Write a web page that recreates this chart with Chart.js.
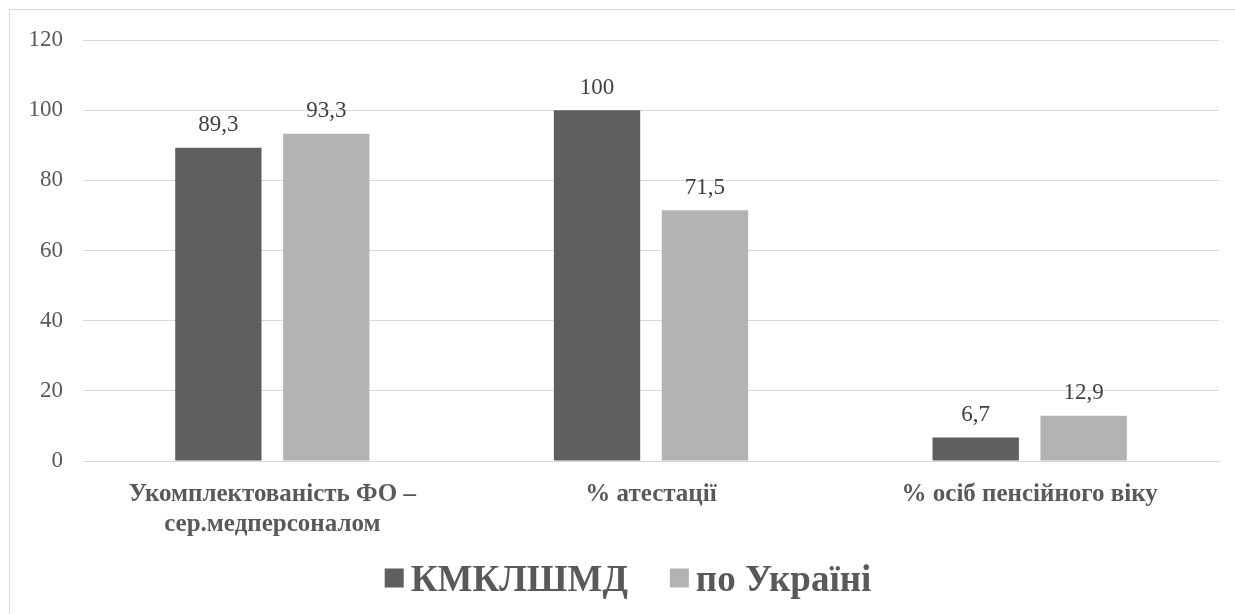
<!DOCTYPE html>
<html>
<head>
<meta charset="utf-8">
<script src="https://cdn.jsdelivr.net/npm/chart.js@4/dist/chart.umd.min.js"></script>
<style>
  html, body { margin: 0; padding: 0; background: #ffffff; }
  #wrap { position: relative; width: 1235px; height: 614px; overflow: hidden; }
  #frame { position: absolute; left: 9px; top: 9px; width: 1400px; height: 800px; border: 1px solid #d9d9d9; box-sizing: border-box; }
  #c { position: absolute; left: 0; top: 0; }
</style>
</head>
<body>
<div id="wrap">
  <div id="frame"></div>
  <canvas id="c" width="1235" height="614"></canvas>
</div>
<script>
// Categories (multi-line label for the first one)
const categories = [
  ['Укомплектованість ФО –', 'сер.медперсоналом'],
  '% атестації',
  '% осіб пенсійного віку'
];
const seriesNames = ['КМКЛШМД', 'по Україні'];
const hospitalValues = [89.3, 100, 6.7];
const ukraineValues = [93.3, 71.5, 12.9];
const yTicks = [0, 20, 40, 60, 80, 100, 120];

const SERIF = '"Liberation Serif", "Times New Roman", serif';
const TEXT_GREY = '#595959';

// Writes each bar's value above it, with a decimal comma
const valueLabels = {
  id: 'valueLabels',
  afterDatasetsDraw(chart) {
    const ctx = chart.ctx;
    ctx.save();
    ctx.font = '23px ' + SERIF;
    ctx.fillStyle = '#404040';
    ctx.textAlign = 'center';
    ctx.textBaseline = 'bottom';
    chart.data.datasets.forEach((ds, di) => {
      chart.getDatasetMeta(di).data.forEach((bar, i) => {
        const txt = String(ds.data[i]).replace('.', ',');
        ctx.fillText(txt, bar.x, bar.y - 11);
      });
    });
    ctx.restore();
  }
};

// Series key under the category labels: square swatch + bold name
const seriesKey = {
  id: 'seriesKey',
  afterDraw(chart, args, opts) {
    const ctx = chart.ctx;
    ctx.save();
    ctx.font = 'bold ' + opts.fontSize + 'px ' + SERIF;
    ctx.textBaseline = 'middle';
    ctx.textAlign = 'left';
    const items = chart.data.datasets.map(ds => ({
      text: ds.label,
      color: ds.backgroundColor,
      w: ctx.measureText(ds.label).width
    }));
    const total = items.reduce((s, it) => s + opts.box + opts.textGap + it.w, 0) +
                  opts.itemGap * (items.length - 1);
    let x = opts.centerX - total / 2;
    items.forEach(it => {
      ctx.fillStyle = it.color;
      ctx.fillRect(x, opts.y - opts.box / 2 - 3, opts.box, opts.box);
      x += opts.box + opts.textGap;
      ctx.fillStyle = TEXT_GREY;
      ctx.fillText(it.text, x, opts.y);
      x += it.w + opts.itemGap;
    });
    ctx.restore();
  }
};

new Chart(document.getElementById('c'), {
  type: 'bar',
  data: {
    labels: categories,
    datasets: [
      { label: seriesNames[0], data: hospitalValues, backgroundColor: '#5f5f5f' },
      { label: seriesNames[1], data: ukraineValues, backgroundColor: '#b3b3b3' }
    ]
  },
  options: {
    responsive: false,
    animation: false,
    devicePixelRatio: 1,
    categoryPercentage: 0.57,
    barPercentage: 0.8,
    layout: { padding: { left: 0, right: 16, top: 40, bottom: 67 } },
    plugins: {
      tooltip: { enabled: false },
      legend: { display: false },
      seriesKey: { centerX: 628, y: 581, box: 19, textGap: 7, itemGap: 42, fontSize: 37 }
    },
    scales: {
      x: {
        grid: { display: false, drawTicks: false },
        border: { color: '#d9d9d9', width: 1 },
        ticks: {
          color: TEXT_GREY,
          padding: 19,
          maxRotation: 0,
          autoSkip: false,
          font: { family: SERIF, size: 25, weight: 'bold', lineHeight: 1.2 }
        },
        afterFit(axis) { axis.height = 86; }
      },
      y: {
        min: 0,
        max: 120,
        afterBuildTicks(axis) { axis.ticks = yTicks.map(v => ({ value: v })); },
        grid: { color: '#d9d9d9', drawTicks: false },
        border: { display: false },
        ticks: {
          color: TEXT_GREY,
          padding: 20,
          font: { family: SERIF, size: 23 }
        },
        afterFit(axis) { axis.width = 83; }
      }
    }
  },
  plugins: [valueLabels, seriesKey]
});
</script>
</body>
</html>
